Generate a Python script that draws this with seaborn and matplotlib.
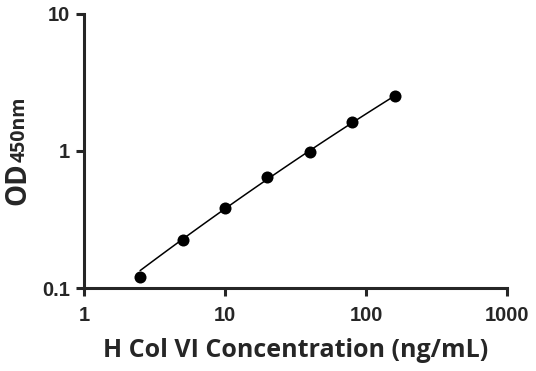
import numpy as np
import matplotlib
matplotlib.use("Agg")
import matplotlib.pyplot as plt
import seaborn as sns

# standard curve data
conc = [2.5, 5, 10, 20, 40, 80, 160]
od = [0.121, 0.224, 0.386, 0.643, 0.98, 1.62, 2.53]

x_ticks = [1, 10, 100, 1000]
x_tick_labels = ["1", "10", "100", "1000"]
y_ticks = [0.1, 1, 10]
y_tick_labels = ["0.1", "1", "10"]

sns.set_style("ticks")
plt.rcParams["font.family"] = ["Open Sans", "DejaVu Sans"]

fig = plt.figure(figsize=(5.36, 3.71), dpi=100)
ax = fig.add_axes([0.1567, 0.2237, 0.7893, 0.7386])

# fitted curve (quadratic in log-log space, weighted toward high values)
lx = np.log10(conc)
ly = np.log10(od)
coef = np.polyfit(lx, ly, 2, w=np.array(od))
xs = np.logspace(np.log10(conc[0]), np.log10(conc[-1]), 100)
ys = 10 ** np.polyval(coef, np.log10(xs))
sns.lineplot(x=xs, y=ys, ax=ax, color="black", linewidth=1.1)

sns.scatterplot(x=conc, y=od, ax=ax, color="black", s=75, edgecolor="black", linewidth=0, zorder=3)

ax.set_xscale("log")
ax.set_yscale("log")
ax.set_xlim(1, 1000)
ax.set_ylim(0.1, 10)
ax.set_xticks(x_ticks)
ax.set_xticklabels(x_tick_labels)
ax.set_yticks(y_ticks)
ax.set_yticklabels(y_tick_labels)
ax.minorticks_off()

sns.despine(ax=ax)
for s in ["left", "bottom"]:
    ax.spines[s].set_linewidth(2.2)
ax.tick_params(axis="both", which="major", length=6, width=2.2, pad=4)
ax.tick_params(axis="x", pad=7)
for lab in ax.get_xticklabels() + ax.get_yticklabels():
    lab.set_fontfamily(["Liberation Sans", "DejaVu Sans"])
    lab.set_fontweight("bold")
    lab.set_fontsize(14.5)

ax.set_xlabel("H Col VI Concentration (ng/mL)", fontsize=18, fontweight="bold", labelpad=9)

# y label: "OD" plus smaller "450nm" sharing a baseline
t1 = fig.text(0.0466, 0.4474, "OD", rotation=90, rotation_mode="anchor",
              ha="left", va="baseline", fontsize=20, fontweight="bold")
fig.canvas.draw()
bb = t1.get_window_extent()
y_top = fig.transFigure.inverted().transform((0, bb.y1))[1]
fig.text(0.0466, y_top, "450nm", rotation=90, rotation_mode="anchor",
         ha="left", va="baseline", fontsize=14, fontweight="bold")

fig.savefig("out.png", dpi=100)
